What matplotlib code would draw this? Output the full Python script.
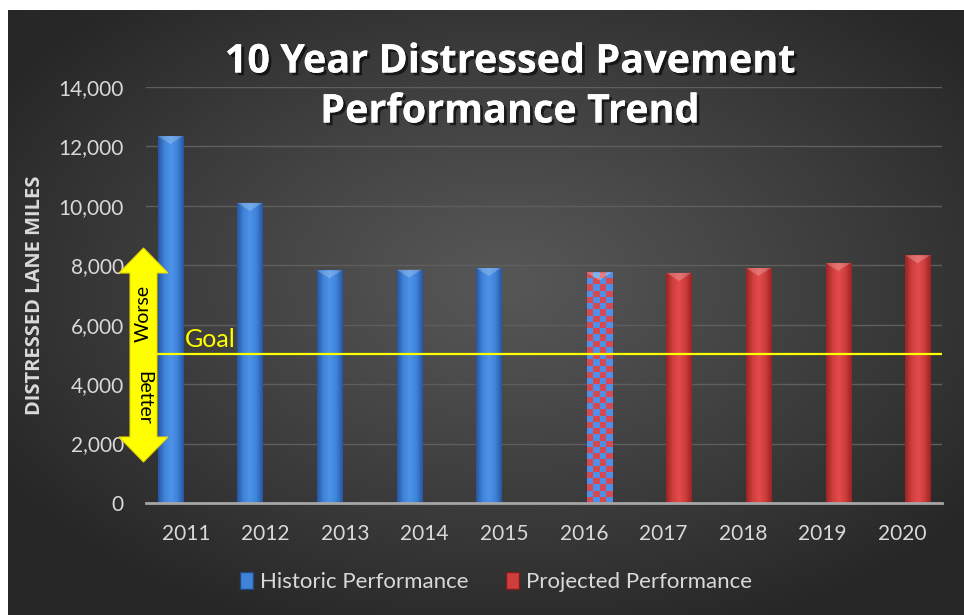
import numpy as np
import matplotlib
matplotlib.use("Agg")
import matplotlib.pyplot as plt
import matplotlib.transforms as mtrans
from matplotlib.patches import Polygon, Patch
from matplotlib.colors import LinearSegmentedColormap
import matplotlib.patheffects as pe

# ---------------- data ----------------
years = ['2011', '2012', '2013', '2014', '2015', '2016', '2017', '2018', '2019', '2020']
historic = [12346, 10100, 7830, 7855, 7910, np.nan, np.nan, np.nan, np.nan, np.nan]
projected = [np.nan, np.nan, np.nan, np.nan, np.nan, 7760, 7745, 7910, 8077, 8337]
mixed_year = '2016'          # year drawn with the blue/red checker pattern
goal_value = 5000
yticks = [0, 2000, 4000, 6000, 8000, 10000, 12000, 14000]
title_lines = ["10 Year Distressed Pavement", "Performance Trend"]
ylabel = "DISTRESSED LANE MILES"
legend_labels = ["Historic Performance", "Projected Performance"]

W, H = 964, 615
plt.rcParams['font.family'] = ['Lato', 'DejaVu Sans']
fig = plt.figure(figsize=(W / 100, H / 100), dpi=100)
fig.patch.set_facecolor('white')


def fx(x):
    return x / W


def fy(y):
    return 1 - y / H


# ---------------- background (radial gradient) ----------------
bg = fig.add_axes([fx(8), 0, 1 - fx(8), fy(10)], zorder=-10)
gx = np.linspace(0, 1, 400)
gy = np.linspace(0, 1, 260)
X, Y = np.meshgrid(gx, gy)
r = np.sqrt(((X - 0.52) / 0.62) ** 2 + ((Y - 0.45) / 0.62) ** 2)
r = np.clip(r, 0, 1)
val = (0x57 - (0x57 - 0x27) * r ** 1.1) / 255.0
bg.imshow(np.dstack([val, val, val]), aspect='auto', extent=[0, 1, 0, 1],
          interpolation='bilinear')
bg.set_axis_off()

# ---------------- main axes ----------------
ax_l, ax_r, ax_t, ax_b = 146, 942, 87, 503
ax = fig.add_axes([fx(ax_l), fy(ax_b), fx(ax_r - ax_l), fy(ax_t) - fy(ax_b)])
ax.set_facecolor('none')
ax.set_xlim(-0.5, len(years) - 0.5)
ax.set_ylim(0, 14000)

x = np.arange(len(years))
bw = 0.315
off = 0.195

blue_cmap = LinearSegmentedColormap.from_list('b', ['#2857a0', '#3f83da', '#4d93e8', '#3f83da', '#2857a0'])
red_cmap = LinearSegmentedColormap.from_list('r', ['#9a2424', '#cf3d3d', '#e24c4c', '#cf3d3d', '#9a2424'])

ax.set_yticks(yticks)
ax.set_yticklabels([f"{v:,}" for v in yticks])
ax.grid(axis='y', color='#5e5e5e', lw=1.0)
ax.set_axisbelow(True)

hist_bars = ax.bar(x - off, historic, width=bw, color='#3f83da', edgecolor='#24487e', lw=0.8, zorder=2)
proj_bars = ax.bar(x + off, projected, width=bw, color='#cf3d3d', edgecolor='#7d1d1d', lw=0.8, zorder=2)

fig.canvas.draw()
grad = np.linspace(0, 1, 64).reshape(1, -1)


def bevel(bar, alpha):
    bx, by = bar.get_x(), bar.get_y()
    bw_, bh = bar.get_width(), bar.get_height()
    p0 = ax.transData.transform((bx, by + bh))
    p1 = ax.transData.transform((bx + bw_, by + bh))
    wpx = p1[0] - p0[0]
    inv = ax.transData.inverted()
    top_y = by + bh
    low = inv.transform((p0[0], p0[1] - wpx * 0.32))[1]
    tri = Polygon([(bx, top_y), (bx + bw_, top_y), (bx + bw_ / 2, low)],
                  closed=True, facecolor='white', alpha=alpha, edgecolor='none', zorder=2.2)
    ax.add_patch(tri)


def shade(bar, cmap):
    bx, by = bar.get_x(), bar.get_y()
    bw_, bh = bar.get_width(), bar.get_height()
    if not np.isfinite(bh) or bh <= 0:
        return
    im = ax.imshow(grad, cmap=cmap, aspect='auto', extent=[bx, bx + bw_, by, by + bh],
                   zorder=2.1, interpolation='bilinear')
    im.set_clip_path(bar)
    bevel(bar, 0.22)


def checker(bar):
    bx, by = bar.get_x(), bar.get_y()
    bw_, bh = bar.get_width(), bar.get_height()
    p0 = ax.transData.transform((bx, by))
    p1 = ax.transData.transform((bx + bw_, by + bh))
    wpx, hpx = p1[0] - p0[0], p1[1] - p0[1]
    ncol = 4
    nrow = int(round(hpx / (wpx / ncol)))
    ii, jj = np.meshgrid(np.arange(ncol), np.arange(nrow))
    chk = ((ii + jj) % 2).astype(float)
    cm = LinearSegmentedColormap.from_list('c', ['#d44a50', '#4f8fe8'])
    im = ax.imshow(chk, cmap=cm, aspect='auto', extent=[bx, bx + bw_, by, by + bh],
                   zorder=2.1, interpolation='nearest')
    im.set_clip_path(bar)
    bevel(bar, 0.3)


for b in hist_bars:
    shade(b, blue_cmap)
for i, b in enumerate(proj_bars):
    if years[i] == mixed_year:
        checker(b)
    else:
        shade(b, red_cmap)

# goal line
ax.axhline(goal_value, xmin=(157 - ax_l) / (ax_r - ax_l), xmax=1.0, color='#ffff00', lw=1.6, zorder=3)
ax.text((185 - ax_l) / (ax_r - ax_l), goal_value + 100, "Goal",
        transform=mtrans.blended_transform_factory(ax.transAxes, ax.transData),
        color='#ffff00', fontsize=18, ha='left', va='bottom', zorder=4)

# ticks / spines
ax.set_xticks(x)
ax.set_xticklabels(years)
ax.tick_params(axis='both', length=0, colors='#d9d9d9', labelsize=15)
ax.tick_params(axis='x', pad=15)
ax.tick_params(axis='y', pad=16)
for s in ['top', 'right', 'left']:
    ax.spines[s].set_visible(False)
ax.spines['bottom'].set_color('#a6a6a6')
ax.spines['bottom'].set_linewidth(2.0)
ax.spines['bottom'].set_zorder(3)

# y label
fig.text(fx(35), fy(295), ylabel, rotation=90, ha='center', va='center',
         color='#d9d9d9', fontsize=14.5, fontweight='bold', family=['Open Sans', 'DejaVu Sans'])

# title
shadow = [pe.withSimplePatchShadow(offset=(2, -2), shadow_rgbFace='black', alpha=0.6), pe.Normal()]
for yy, line in zip([62, 112], title_lines):
    fig.text(fx(510), fy(yy), line, ha='center', va='center', color='white',
             fontsize=28.5, fontweight='bold', family=['Open Sans', 'DejaVu Sans'],
             path_effects=shadow)

# worse / better arrow (annotation)
cx = 143.5
pts = [(cx, 248), (168, 273), (157, 273), (157, 437), (168, 437), (cx, 462),
       (119, 437), (130, 437), (130, 273), (119, 273)]
arrow = Polygon([(fx(a), fy(b)) for a, b in pts], closed=True, transform=fig.transFigure,
                facecolor='#ffff00', edgecolor='#e6d800', lw=0.8, zorder=5)
fig.add_artist(arrow)
fig.text(fx(cx), fy(313), "Worse", rotation=90, ha='center', va='center', color='black',
         fontsize=14, zorder=6)
fig.text(fx(cx), fy(398), "Better", rotation=-90, ha='center', va='center', color='black',
         fontsize=14, zorder=6)

# legend
handles = [Patch(facecolor='#3f83da', edgecolor='#24487e'),
           Patch(facecolor='#cf3d3d', edgecolor='#7d1d1d')]
leg = fig.legend(handles, legend_labels, loc='center', bbox_to_anchor=(fx(496), fy(582)),
                 ncol=2, frameon=False, fontsize=16, labelcolor='#d9d9d9',
                 handlelength=0.6, handleheight=0.8, handletextpad=0.3, columnspacing=1.7)

fig.savefig('out.png', dpi=100, facecolor='white')
